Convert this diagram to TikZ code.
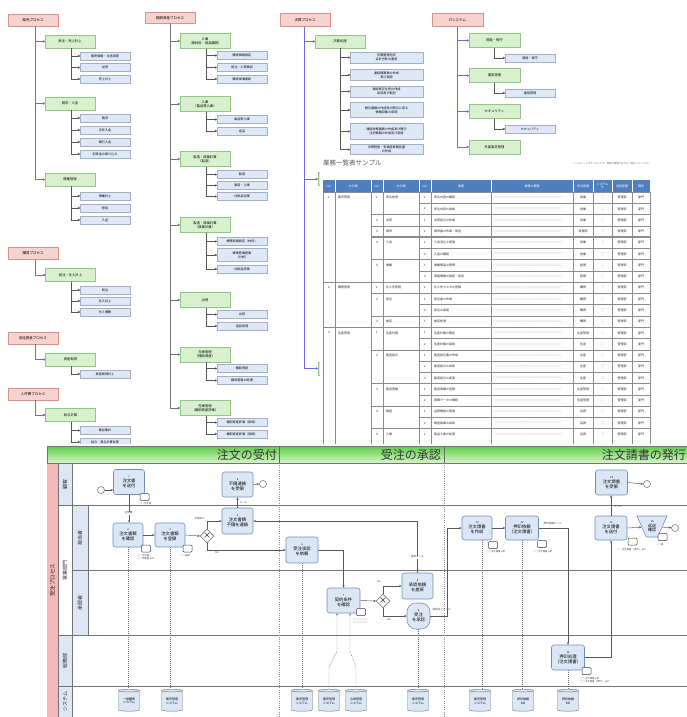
\documentclass[tikz,border=0pt]{standalone}
\usepackage{fontspec}
\setmainfont{Noto Sans CJK JP}
\usetikzlibrary{arrows.meta,shapes.geometric,calc}
\definecolor{rootf}{HTML}{F7D3D0}
\definecolor{rootd}{HTML}{D9918C}
\definecolor{grpf}{HTML}{D7F0CD}
\definecolor{grpd}{HTML}{95C487}
\definecolor{leaff}{HTML}{DFE8F7}
\definecolor{leafd}{HTML}{A3AFC4}
\definecolor{bline}{HTML}{6E68DC}
\definecolor{gline}{HTML}{555555}
\definecolor{hdr}{HTML}{4F7FBF}
\definecolor{tgrid}{HTML}{8C8C8C}
\definecolor{taskf}{HTML}{DCE7F6}
\definecolor{taskd}{HTML}{6D8EC0}
\definecolor{lanef}{HTML}{DDE7F3}
\definecolor{pinkl}{HTML}{F5B8B8}
\definecolor{hgtop}{HTML}{5CCF45}
\definecolor{hgbot}{HTML}{D8F4CB}
\newcommand\tsk[2]{{\fontsize{2.6}{3}\selectfont #1}\\#2}
\newcommand\mkleaves[4]{%
  \foreach \yy/\lbl [count=\kk] in {#4}{%
    \node[leaf] (#3\kk) at (#2,\yy) {\lbl};
    \draw[gl] ([xshift=1pt]#1.south) |- (#3\kk.west);
  }}
\tikzset{
 root/.style={draw=rootd, fill=rootf, line width=0.4, minimum width=50, minimum height=12, inner sep=0, font=\fontsize{3.5}{4}\selectfont},
 grp/.style={draw=grpd, fill=grpf, line width=0.4, minimum width=50, minimum height=13, inner sep=0, align=center, font=\fontsize{3.3}{4}\selectfont},
 leaf/.style={draw=leafd, fill=leaff, line width=0.4, minimum width=50, minimum height=8, inner sep=0, align=center, font=\fontsize{3.1}{3.7}\selectfont},
 leafw/.style={leaf, minimum width=73, minimum height=11},
 bl/.style={draw=bline, line width=0.8, -{Circle[length=2.2pt]}},
 gl/.style={draw=gline, line width=0.5, -{Circle[length=2pt]}},
 gm/.style={draw=black!55, line width=0.8, -{Circle[length=2.2pt]}},
 tc/.style={inner sep=0, font=\fontsize{3}{3.5}\selectfont, text=black!85},
 th/.style={inner sep=0, font=\fontsize{3}{3.4}\selectfont, text=white, align=center},
 tline/.style={draw=tgrid, line width=0.5},
 task/.style={draw=taskd, fill=taskf, line width=0.55, rounded corners=2.5, minimum width=31, minimum height=25, inner sep=0.3, align=center, font=\fontsize{4.3}{5.1}\selectfont},
 trap/.style={trapezium, shape border rotate=180, trapezium stretches=true, draw=taskd, fill=taskf, line width=0.55, minimum width=30, minimum height=21, inner sep=0, align=center, font=\fontsize{4}{4.6}\selectfont},
 ev/.style={circle, draw=black!60, fill=white, line width=0.5, minimum size=7, inner sep=0},
 gw/.style={diamond, draw=black!60, fill=white, line width=0.5, minimum size=13, inner sep=0, font=\fontsize{8}{8}\selectfont},
 msg/.style={draw=black!75, fill=white, line width=0.5, rounded corners=1, minimum width=9, minimum height=7, inner sep=0},
 mlab/.style={font=\fontsize{2.4}{2.9}\selectfont, text=black!70, align=left, inner sep=0},
 flab/.style={font=\fontsize{2.6}{3}\selectfont, text=black!75, inner sep=0.3},
 fl/.style={draw=black!65, line width=0.45, -{Stealth[length=2.6pt,width=2.2pt]}},
 da/.style={draw=black!55, line width=0.45, dash pattern=on 1pt off 1pt},
 cyl/.style={cylinder, shape border rotate=90, aspect=0.22, draw=black!55, fill=taskf, line width=0.45, minimum width=21, minimum height=22, inner sep=0, align=center, font=\fontsize{3}{3.6}\selectfont},
 lanet/.style={rotate=90, inner sep=0, font=\fontsize{5}{5}\selectfont, text=black!85},
 hdt/.style={anchor=east, inner sep=0, font=\fontsize{12}{12}\selectfont, text=black!80},
}
\begin{document}
\begin{tikzpicture}[x=1pt,y=-1pt]
\useasboundingbox (0,0) rectangle (687,717);
\fill[white] (0,0) rectangle (687,717);

% ---------- Tree 1: 販売プロセス ----------
\node[root] (r1) at (33,20) {販売プロセス};
\node[grp] (g1a) at (70,41.5) {受注・売上計上};
\node[grp] (g1b) at (70,103.5) {請求・入金};
\node[grp] (g1c) at (70,179.5) {債権管理};
\draw[bl] ([xshift=2pt]r1.south) |- (g1c.west);
\draw[bl] ([xshift=2pt]r1.south) |- (g1a.west);
\draw[bl] ([xshift=2pt]r1.south) |- (g1b.west);
\mkleaves{g1a}{105}{la}{56/販売価格・与信承認, 67.5/出荷, 79/売上計上}
\mkleaves{g1b}{105}{lb}{118/請求, 130/手形入金, 142/銀行入金, 154/前受金の取り込み}
\mkleaves{g1c}{105}{lc}{196/債権計上, 208/督促, 220/入金}

% ---------- Tree 5: 購買 / 固定資産 / 人件費 ----------
\node[root] (r5) at (33,253.5) {購買プロセス};
\node[grp] (g5) at (70.5,275) {発注・仕入計上};
\draw[bl] ([xshift=2pt]r5.south) |- (g5.west);
\mkleaves{g5}{105}{ld}{290/発注, 301/仕入計上, 312/仕入債務}
\node[root] (r6) at (33,338) {固定資産プロセス};
\node[grp] (g6) at (70.5,359.5) {資産取得};
\draw[bl] ([xshift=2pt]r6.south) |- (g6.west);
\mkleaves{g6}{105}{le}{374/資産取得計上}
\node[root] (r7) at (33,394) {人件費プロセス};
\node[grp] (g7) at (70.5,415) {給与計算};
\draw[bl] ([xshift=2pt]r7.south) |- (g7.west);
\mkleaves{g7}{105}{lf}{430.5/勤怠集計, 442/給与・賞与計算処理}

% ---------- Tree 2: 棚卸資産プロセス ----------
\node[root,minimum height=11] (r2) at (170,18) {棚卸資産プロセス};
\node[grp,minimum height=15] (g2a) at (205,41) {入庫\\（原材料・部品購買）};
\node[grp,minimum height=15] (g2b) at (205,104) {入庫\\（製品等入庫）};
\node[grp,minimum height=15] (g2c) at (205,159) {製造・原価計算\\（製造）};
\node[grp,minimum height=15] (g2d) at (205,225) {製造・原価計算\\（原価計算）};
\node[grp,minimum height=15] (g2e) at (205,300) {出荷};
\node[grp,minimum height=15] (g2f) at (205,354.5) {在庫管理\\（棚卸資産）};
\node[grp,minimum height=15] (g2g) at (205,408) {在庫管理\\（棚卸資産評価）};
\foreach \g in {g2a,g2b,g2c,g2d,g2e,g2f,g2g}{\draw[gm] (r2.south) |- (\g.west);}
\mkleaves{g2a}{242}{lg}{55.5/購買価格設定, 67.5/発注・入荷検収, 79/購買単価更新}
\mkleaves{g2b}{242}{lh}{119.5/製品等入庫, 131/返品}
\mkleaves{g2c}{242}{li}{174.5/製造, 185.5/製造・入庫, 196.5/仕掛品在庫}
\node[leaf] (lj1) at (242,241.5) {標準原価設定（材料）};
\node[leaf,minimum height=13] (lj2) at (242,255) {標準原価差異\\（分析）};
\node[leaf] (lj3) at (242,269) {仕掛品評価};
\foreach \l in {lj1,lj2,lj3}{\draw[gl] ([xshift=1pt]g2d.south) |- (\l.west);}
\mkleaves{g2e}{242}{lk}{314.5/出荷, 326/返品処理}
\mkleaves{g2f}{242}{ll}{368.5/棚卸資産, 380.5/棚卸差異の処理}
\mkleaves{g2g}{242}{lm}{422.5/棚卸資産評価（原価）, 434/棚卸資産評価（低価）}

% ---------- Tree 3: 決算プロセス ----------
\node[root,minimum height=13] (r3) at (305,20) {決算プロセス};
\node[grp] (g3) at (340,41.5) {決算処理};
\node[grp] (g3b) at (343,179) {};
\node[grp] (g3c) at (343,368.5) {};
\draw[bl] ([xshift=-1pt]r3.south) |- (g3c.west);
\draw[bl] ([xshift=-1pt]r3.south) |- (g3b.west);
\draw[bl] ([xshift=-1pt]r3.south) |- (g3.west);
\node[leafw] (ln1) at (386.5,57.5) {決算整理仕訳\\会計方針の適用};
\node[leafw] (ln2) at (386.5,75) {連結精算表の作成\\及び承認};
\node[leafw] (ln3) at (386.5,91.5) {連結修正仕訳の作成\\承認及び転記};
\node[leafw,minimum height=15] (ln4) at (386.5,110) {開示書類の作成及び開示に係る\\情報収集の承認};
\node[leafw,minimum height=16] (ln5) at (386.5,131.5) {連結財務諸表の作成及び開示\\注記情報の作成及び承認};
\node[leafw,minimum height=10] (ln6) at (386.5,149.5) {決算短信・有価証券報告書\\の作成};
\foreach \l in {ln1,ln2,ln3,ln4,ln5,ln6}{\draw[gl] (g3.south) |- (\l.west);}

% ---------- Tree 4: ITシステム ----------
\node[root,minimum height=13,minimum width=51] (r4) at (457.5,20) {ITシステム};
\node[grp,minimum width=51,minimum height=14] (g4a) at (494.5,40.5) {開発・保守};
\node[grp,minimum width=51,minimum height=14] (g4b) at (494.5,75.5) {運用管理};
\node[grp,minimum width=51,minimum height=14] (g4c) at (494.5,111.5) {セキュリティ};
\node[grp,minimum width=51,minimum height=14] (g4d) at (494.5,147) {外部委託管理};
\foreach \g in {g4d,g4a,g4b,g4c}{\draw[bl] (r4.south) |- (\g.west);}
\node[leaf] (lo1) at (530,58) {開発・保守};
\node[leaf] (lo2) at (530,93) {運用管理};
\node[leaf] (lo3) at (530,129) {セキュリティ};
\draw[gl] (g4a.south) |- (lo1.west);
\draw[gl] (g4b.south) |- (lo2.west);
\draw[gl] (g4c.south) |- (lo3.west);

% ---------- Table: 業務一覧表サンプル ----------
\fill[white] (320,156) rectangle (687,444);
\node[anchor=west, inner sep=0, font=\fontsize{6.5}{6.5}\selectfont, text=black!65] (ttl) at (323,163.5) {業務一覧表サンプル};
\node[anchor=east, inner sep=0, font=\fontsize{2.4}{2.4}\selectfont, text=black!60] (note) at (650,164) {※このシートはサンプルです。実際の業務に合わせて修正してください};
\fill[hdr] (323,180) rectangle (650,192);
\foreach \x in {335,371,383,419,431,491,573,593,612,632}{\draw[white,line width=0.5] (\x,180) -- (\x,192);}
\foreach \x/\t [count=\c] in {329/No., 353/大分類, 377/No., 401/中分類, 425/No., 461/業務, 532/業務の概要, 583/担当部署, 602.5/{システム\\化}, 622/承認部署, 641/備考}{
  \node[th] (hd\c) at (\x,186) {\t};
}
\foreach \x in {323,335,371,383,419,431,491,573,593,612,632,650}{\draw[tline] (\x,192) -- (\x,444);}
\foreach \i/\sx/\lw/\an/\ana/\cn/\cna/\en/\ena/\dpt in {
1/323/0.5/1/販売管理/1/受注処理/1/受注内容の確認/営業,
2/419/0.5/{}/{}/{}/{}/2/受注内容の承認/営業,
3/371/0.5/{}/{}/2/出荷/1/出荷指示の作成/営業,
4/371/0.5/{}/{}/3/請求/1/請求書の作成・発送/経理部,
5/371/1.2/{}/{}/4/入金/1/入金消込の実施/営業,
6/419/0.5/{}/{}/{}/{}/2/入金の確認/営業,
7/371/1.2/{}/{}/5/債権/1/債権残高の管理/経理,
8/419/0.5/{}/{}/{}/{}/2/滞留債権の督促・回収/経理,
9/323/0.8/2/購買管理/1/仕入先管理/1/仕入先マスタの登録/購買,
10/371/0.5/{}/{}/2/発注/1/発注書の作成/購買,
11/419/0.5/{}/{}/{}/{}/2/発注の承認/購買,
12/371/0.5/{}/{}/3/検収/1/検収処理/購買,
13/323/0.8/3/生産管理/1/生産計画/1/生産計画の策定/生産管理,
14/419/0.5/{}/{}/{}/{}/2/生産計画の承認/生産,
15/371/0.5/{}/{}/2/製造指示/1/製造指示書の作成/生産,
16/419/0.5/{}/{}/{}/{}/2/製造指示の承認/生産,
17/419/0.5/{}/{}/{}/{}/3/製造指示の変更/生産,
18/371/0.5/{}/{}/3/製造実績/1/製造実績の登録/生産管理,
19/419/0.5/{}/{}/{}/{}/2/実績データの確認/生産管理,
20/371/0.5/{}/{}/4/検査/1/品質検査の実施/品質,
21/419/0.5/{}/{}/{}/{}/2/検査結果の承認/品質,
22/371/1.2/{}/{}/5/入庫/1/製品入庫の処理/品質}{
  \pgfmathsetmacro\yt{192+(\i-1)*11.27}
  \pgfmathsetmacro\yc{\yt+5.635}
  \draw[tline, line width=\lw pt] (\sx,\yt) -- (650,\yt);
  \node[tc] (an\i) at (329,\yc) {\an};
  \node[tc, anchor=west] (ana\i) at (338,\yc) {\ana};
  \node[tc] (cn\i) at (377,\yc) {\cn};
  \node[tc, anchor=west] (cna\i) at (386,\yc) {\cna};
  \node[tc] (en\i) at (425,\yc) {\en};
  \node[tc, anchor=west] (ena\i) at (434,\yc) {\ena};
  \node[tc, anchor=west, font=\fontsize{2.5}{2.5}\selectfont, text=black!55] (ov\i) at (494,\yc) {○○○○○○○○○○○○○○○○○○○○○○○○○○○};
  \node[tc] (dq\i) at (583,\yc) {\dpt};
  \node[tc, text=black!50] (sy\i) at (602.5,\yc) {□};
  \node[tc] (ap\i) at (622,\yc) {管理部};
  \node[tc] (rm\i) at (641,\yc) {部門};
}

% ---------- BPMN ----------
\fill[white] (47,444) rectangle (690,717);
\shade[top color=hgtop, bottom color=hgbot] (47,446) rectangle (690,463);
\draw[black!55, line width=0.5] (47,446) rectangle (690,717);
\draw[black!60, line width=0.6] (279,446) -- (279,463) (444,446) -- (444,463);
\node[hdt] (h1) at (277,455) {注文の受付};
\node[hdt] (h2) at (441,455) {受注の承認};
\node[hdt] (h3) at (686,455) {注文請書の発行};
% lanes
\fill[pinkl] (47,463) rectangle (58,717);
\fill[lanef] (58,463) rectangle (72,505);
\fill[lanef] (72,505) rectangle (88,635);
\fill[lanef] (58,635) rectangle (72,717);
\draw[black!55, line width=0.5] (47,463) -- (690,463) (58,505) -- (690,505) (72,570) -- (690,570)
  (58,635) -- (690,635) (58,686) -- (690,686) (58,463) -- (58,717) (72,463) -- (72,717) (88,505) -- (88,635);
\node[lanet, font=\fontsize{5.5}{5.5}\selectfont] (lp) at (52.5,580) {受注プロセス};
\node[lanet] (l1) at (65,484) {顧客};
\node[lanet] (l2) at (65,570) {営業部門};
\node[lanet] (l3) at (80,537.5) {担当者};
\node[lanet] (l4) at (80,602.5) {承認者};
\node[lanet] (l5) at (65,660.5) {総務部};
\node[lanet] (l6) at (65,701.5) {システム};
\draw[black!45, line width=0.5, dash pattern=on 1pt off 1.2pt] (279,463) -- (279,717) (444,463) -- (444,717);

% tasks
\node[ev] (s1) at (101,490) {};
\node[task] (t1) at (129,482) {\tsk{1}{注文書\\を送付}};
\node[task,minimum width=30,minimum height=24] (t2) at (128,535) {\tsk{2}{注文書類\\を確認}};
\node[task,minimum width=30,minimum height=24] (t3) at (170,535) {\tsk{3}{注文書類\\を登録}};
\node[gw] (g1) at (207,536) {×};
\node[task,minimum height=26] (t4) at (237.5,521) {\tsk{4}{注文書類\\不備を連絡}};
\node[task] (t5) at (237.5,484.5) {\tsk{5}{不備連絡\\を受領}};
\node[ev] (e1) at (263,484) {};
\node[task,minimum width=32,minimum height=26] (t6) at (302,550) {\tsk{6}{受注承認\\を依頼}};
\node[task,minimum width=33] (t7) at (343.5,600.5) {\tsk{7}{契約条件\\を確認}};
\node[gw] (g2) at (383,601) {×};
\node[task,minimum height=26] (t8) at (417.5,586) {\tsk{8}{承認依頼\\を差戻}};
\node[task,rounded corners=9,minimum width=23,minimum height=26] (t9) at (418.5,616) {\tsk{9}{受注\\を承認}};
\node[task,minimum width=30,minimum height=24] (t10) at (477,528) {\tsk{10}{注文請書\\を作成}};
\node[task,minimum width=33,minimum height=24] (t11) at (522,528) {\tsk{11}{押印依頼\\（注文請書）}};
\node[task,minimum width=33] (t12) at (568,657.5) {\tsk{12}{押印処理\\（注文請書）}};
\node[task,minimum width=32,minimum height=24] (t13) at (611,528) {\tsk{13}{注文請書\\を送付}};
\node[task,minimum width=32] (t14) at (611.5,482.5) {\tsk{14}{注文請書\\を受領}};
\node[ev] (e2) at (647,484) {};
\node[trap] (t15) at (652,526.5) {\tsk{15}{返送\\確認}};
\node[ev] (e3) at (675,528) {};
\coordinate (c1) at (447,600);

% systems
\foreach \x/\t [count=\c] in {129/{一般購買\\システム}, 172/{販売管理\\システム}, 302/{販売管理\\システム}, 329/{販売管理\\システム}, 356/{与信管理\\システム}, 418/{販売管理\\システム}, 480/{販売管理\\システム}, 523/{押印依頼\\DB}, 568/{押印依頼\\DB}}{
  \node[cyl] (d\c) at (\x,701) {\t};
}

% flows
\draw[fl] (s1.east) -- (s1.east -| t1.west);
\draw[fl] (t1.south) -- (t1.south |- t2.north);
\draw[fl] (t2.east) -- (t3.west);
\draw[fl] (t3.east) -- (g1.west);
\draw[fl] (g1.north) |- (t4.west);
\draw[fl] (g1.south) |- (t6.west);
\draw[fl] (t4.north) -- (t4.north |- t5.south);
\draw[fl] (t5.east) -- (e1.west);
\draw[fl] (t6.east) -| (t7.north);
\draw[fl] (t7.east) -- (g2.west);
\draw[fl] (g2.north) |- (t8.west);
\draw[fl] (g2.south) |- (t9.west);
\draw[fl] (t8.north) |- (t4.east);
\draw[fl] (t9.east) -- (t9.east -| c1) |- (t10.west);
\draw[fl] (t10.east) -- (t11.west);
\draw[fl] (t11.east) -| (t12.north);
\draw[fl] (t12.east) -| (t13.south);
\draw[fl] (t13.north) -- (t13.north |- t14.south);
\draw[fl] (t14.east) -- (e2.west);
\draw[fl] (t13.east) -- (t15);
\draw[fl] (t15) -- (e3);

% data associations
\draw[da] (t2.south) -- (t2.south |- d1.north);
\draw[da] (t3.south) -- (t3.south |- d2.north);
\draw[da] (t6.south) -- (t6.south |- d3.north);
\draw[da, -{Stealth[length=2.2pt,width=2pt]}] (d4.north) -- ++(0,-22) -- ([xshift=-6.5pt,yshift=-38pt]t7.south) -- ([xshift=-6.5pt]t7.south);
\draw[da, -{Stealth[length=2.2pt,width=2pt]}] (d5.north) -- ++(0,-22) -- ([xshift=6.5pt,yshift=-38pt]t7.south) -- ([xshift=6.5pt]t7.south);
\draw[da] (t9.south) -- (t9.south |- d6.north);
\draw[da] ([xshift=5pt]t10.south) -- ([xshift=5pt]t10.south |- d7.north);
\draw[da] (t11.south) -- (t11.south |- d8.north);
\draw[da] (t12.south) -- (t12.south |- d9.north);

% message icons and labels
\node[msg] (m1) at (144.5,497) {};
\node[mlab, anchor=north west] (ml1) at (139,502) {○○注文書};
\node[msg] (m2) at (146,548.5) {};
\node[mlab, anchor=north west] (ml2) at (137,554) {○○注文書\\○○申請書.pdf};
\node[msg] (m3) at (187.5,548.5) {};
\node[mlab, anchor=north west] (ml3) at (180,554) {○○登録};
\node[msg] (m7) at (361,612) {};
\node[mlab, anchor=north west] (ml7) at (353,618) {○○○○○○\\○○○○○○};
\node[msg] (m10) at (493,545) {};
\node[mlab, anchor=north west] (ml10) at (486,550) {○○注文請書.pdf};
\node[msg] (m11) at (542,544) {};
\node[mlab, anchor=north west] (ml11) at (533,550) {○○注文請書.pdf};
\node[msg] (m12) at (586.5,671) {};
\node[mlab, anchor=north west] (ml12) at (580,677) {○○注文請書.pdf\\○○注文請書（押印）.pdf};
\node[msg] (m13) at (632.5,541.5) {};
\node[mlab, anchor=north west] (ml13) at (617,548) {○○注文請書（押印）.pdf};
\node[msg] (m15) at (662.5,537) {};
\node[mlab, anchor=north west] (ml15) at (656,543) {○○書};

% flow labels
\node[flab, fill=white] (f1) at (128.5,513) {注文書};
\node[flab, anchor=east] (f2) at (205.5,519) {不備あり};
\node[flab] (f3) at (217,553) {Yes};
\node[flab, anchor=west] (f4) at (239,503) {メール};
\node[flab, fill=white] (f5) at (417.5,557) {差戻メール};
\node[flab] (f6) at (379,582) {No};
\node[flab] (f7) at (389,620) {Yes};
\node[flab, anchor=west] (f8) at (432,610) {承認完了メール};
\node[flab, anchor=west] (f9) at (543,524) {押印依頼メール};
\node[flab, anchor=west] (f10) at (613.5,507) {メール};
\end{tikzpicture}
\end{document}
